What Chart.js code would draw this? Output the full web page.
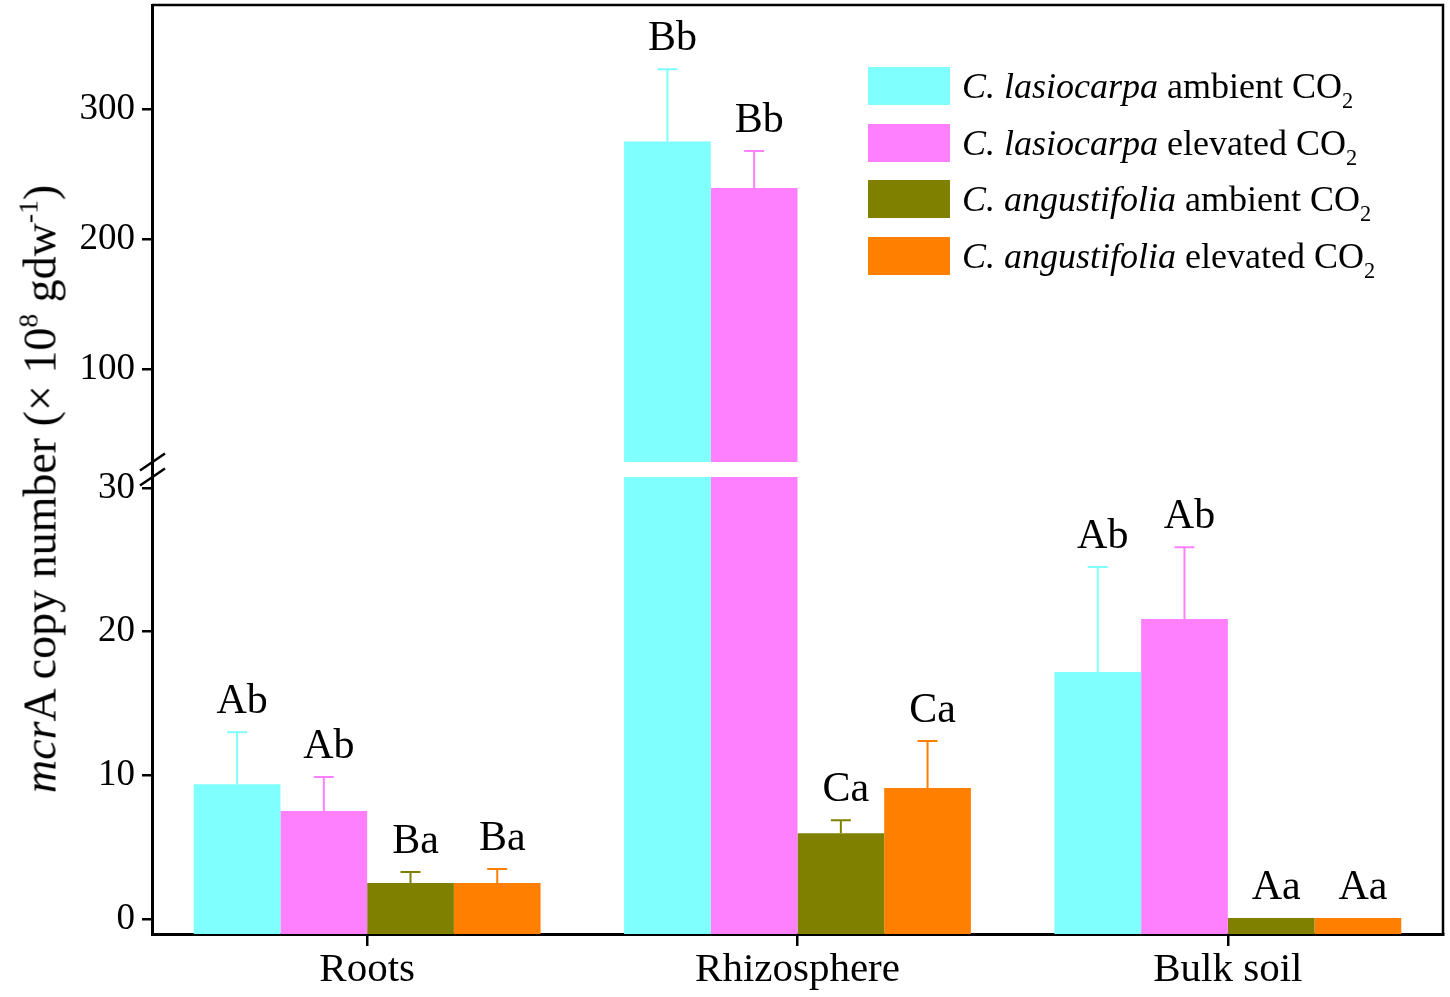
<!DOCTYPE html>
<html>
<head>
<meta charset="utf-8">
<script src="https://cdn.jsdelivr.net/npm/chart.js@4.4.1/dist/chart.umd.min.js"></script>
<style>
html, body { margin: 0; padding: 0; background: #fff; }
#wrap { position: relative; width: 1450px; height: 997px; }
#c { position: absolute; left: 0; top: 0; }
#ytitle {
    position: absolute; left: 40px; top: 489px;
    transform: translate(-50%, -50%) rotate(-90deg);
    white-space: nowrap; font: 46px "Liberation Serif"; color: #000;
}
#legend { position: absolute; left: 868px; top: 67px; font: 36px "Liberation Serif"; color: #000; }
.row { display: flex; align-items: center; height: 38px; margin-bottom: 18.5px; white-space: nowrap; }
.sw { width: 82px; height: 38px; margin-right: 12px; flex: none; }
sup { font-size: 0.6em; vertical-align: 0.65em; line-height: 0; }
sub { font-size: 0.62em; vertical-align: -0.45em; line-height: 0; }
</style>
</head>
<body>
<div id="wrap">
    <canvas id="c" width="1450" height="997"></canvas>
    <div id="ytitle"><i>mcr</i>A copy number (× 10<sup>8</sup> gdw<sup>-1</sup>)</div>
    <div id="legend"></div>
</div>
<script>
// Veriler
const CATEGORIES = ['Roots', 'Rhizosphere', 'Bulk soil'];
const SPECIES = ['C. lasiocarpa', 'C. lasiocarpa', 'C. angustifolia', 'C. angustifolia'];
const TREATMENTS = ['ambient', 'elevated', 'ambient', 'elevated'];
const COLORS = ['#80ffff', '#ff80ff', '#808000', '#ff8000'];

const LAS_AMBIENT = [9.39, 275.0, 17.2];
const LAS_ELEVATED = [7.52, 239.2, 20.88];
const ANG_AMBIENT = [2.51, 5.98, 0.08];
const ANG_ELEVATED = [2.51, 9.12, 0.08];

const LAS_AMBIENT_ERR = [3.62, 55.5, 7.3];
const LAS_ELEVATED_ERR = [2.37, 28.5, 5.0];
const ANG_AMBIENT_ERR = [0.77, 0.9, 0];
const ANG_ELEVATED_ERR = [0.97, 3.27, 0];

const LAS_AMBIENT_SIG = ['Ab', 'Bb', 'Ab'];
const LAS_ELEVATED_SIG = ['Ab', 'Bb', 'Ab'];
const ANG_AMBIENT_SIG = ['Ba', 'Ca', 'Aa'];
const ANG_ELEVATED_SIG = ['Ba', 'Ca', 'Aa'];

const LOW_TICKS = [0, 10, 20, 30];
const HIGH_TICKS = [100, 200, 300];
const LOW_RANGE = [-1.04, 30.77];
const HIGH_RANGE = [28.5, 380];

const SERIES = [LAS_AMBIENT, LAS_ELEVATED, ANG_AMBIENT, ANG_ELEVATED];
const ERRORS = [LAS_AMBIENT_ERR, LAS_ELEVATED_ERR, ANG_AMBIENT_ERR, ANG_ELEVATED_ERR];
const LETTERS = [LAS_AMBIENT_SIG, LAS_ELEVATED_SIG, ANG_AMBIENT_SIG, ANG_ELEVATED_SIG];

const FONT = 'Liberation Serif';

// Her seri iki kez: alt eksen ve üst eksen (kırık eksen)
const datasets = [];
SERIES.forEach((values, s) => {
    ['yLow', 'yHigh'].forEach(axis => {
        datasets.push({
            label: SPECIES[s] + ' ' + TREATMENTS[s] + ' CO2',
            data: values,
            errors: ERRORS[s],
            letters: LETTERS[s],
            backgroundColor: COLORS[s],
            borderWidth: 0,
            yAxisID: axis,
            stack: 'g' + s,
            base: axis === 'yLow' ? LOW_RANGE[0] : HIGH_RANGE[0],
            clip: 0,
            barPercentage: 1,
            categoryPercentage: 0.806
        });
    });
});

// Hata çubukları ve harfler
const errorBars = {
    id: 'errorBars',
    afterDatasetsDraw(chart) {
        const ctx = chart.ctx;
        ctx.save();
        chart.data.datasets.forEach((ds, di) => {
            const meta = chart.getDatasetMeta(di);
            const scale = chart.scales[ds.yAxisID];
            ds.data.forEach((v, i) => {
                if (v < scale.min || v > scale.max) return;
                const bar = meta.data[i];
                const yTop = scale.getPixelForValue(v + ds.errors[i]);
                if (ds.errors[i] > 0) {
                    ctx.strokeStyle = ds.backgroundColor;
                    ctx.lineWidth = 2;
                    ctx.beginPath();
                    ctx.moveTo(bar.x, bar.y);
                    ctx.lineTo(bar.x, yTop);
                    ctx.moveTo(bar.x - 10, yTop);
                    ctx.lineTo(bar.x + 10, yTop);
                    ctx.stroke();
                }
                ctx.fillStyle = '#000';
                ctx.font = '42px "' + FONT + '"';
                ctx.textAlign = 'center';
                ctx.textBaseline = 'alphabetic';
                ctx.fillText(ds.letters[i], bar.x + 5, yTop - 19);
            });
        });
        ctx.restore();
    }
};

// Çerçeve ve eksen kırığı işaretleri
const frame = {
    id: 'frame',
    afterDraw(chart) {
        const ctx = chart.ctx;
        const a = chart.chartArea;
        const gap = chart.scales.yGap;
        ctx.save();
        ctx.strokeStyle = '#000';
        ctx.lineWidth = 2.5;
        ctx.beginPath();
        ctx.moveTo(a.left, a.top);
        ctx.lineTo(a.right, a.top);
        ctx.lineTo(a.right, a.bottom);
        ctx.stroke();
        [gap.top, gap.bottom].forEach(y => {
            ctx.beginPath();
            ctx.moveTo(a.left - 12, y + 8.5);
            ctx.lineTo(a.left + 13, y - 8.5);
            ctx.stroke();
        });
        ctx.restore();
    }
};

const yCommon = {
    type: 'linear',
    position: 'left',
    stack: 'y',
    stacked: false,
    grid: { drawOnChartArea: false, color: '#000', lineWidth: 2.5, tickLength: 10 },
    border: { display: true, color: '#000', width: 3 },
    ticks: { color: '#000', font: { family: FONT, size: 37 }, padding: 7 },
    afterFit: s => { s.width = 152; s.paddingTop = 0; s.paddingBottom = 0; }
};

new Chart(document.getElementById('c'), {
    type: 'bar',
    data: { labels: CATEGORIES, datasets: datasets },
    options: {
        responsive: false,
        animation: false,
        layout: { padding: { left: 0, right: 7, top: 5, bottom: 0 } },
        plugins: { legend: { display: false }, tooltip: { enabled: false } },
        scales: {
            x: {
                type: 'category',
                offset: true,
                grid: { drawOnChartArea: false, offset: false, color: '#000', lineWidth: 2.5, tickLength: 12 },
                border: { display: true, color: '#000', width: 3 },
                ticks: { color: '#000', font: { family: FONT, size: 41 }, padding: 0, maxRotation: 0 },
                afterFit: s => { s.height = 63; s.paddingLeft = 0; s.paddingRight = 0; }
            },
            yLow: Object.assign({}, yCommon, {
                min: LOW_RANGE[0], max: LOW_RANGE[1], stackWeight: 457,
                afterBuildTicks: s => { s.ticks = LOW_TICKS.map(v => ({ value: v })); }
            }),
            yGap: Object.assign({}, yCommon, {
                min: 0, max: 1, stackWeight: 15,
                grid: { display: false },
                ticks: { display: false },
                afterBuildTicks: s => { s.ticks = []; }
            }),
            yHigh: Object.assign({}, yCommon, {
                min: HIGH_RANGE[0], max: HIGH_RANGE[1], stackWeight: 457,
                afterBuildTicks: s => { s.ticks = HIGH_TICKS.map(v => ({ value: v })); }
            })
        }
    },
    plugins: [errorBars, frame]
});

// Lejant (italik tür adları, alt simge)
const legend = document.getElementById('legend');
SPECIES.forEach((sp, s) => {
    const row = document.createElement('div');
    row.className = 'row';
    row.innerHTML = '<div class="sw" style="background:' + COLORS[s] + '"></div>' +
        '<span><i>' + sp + '</i> ' + TREATMENTS[s] + ' CO<sub>2</sub></span>';
    legend.appendChild(row);
});
</script>
</body>
</html>
